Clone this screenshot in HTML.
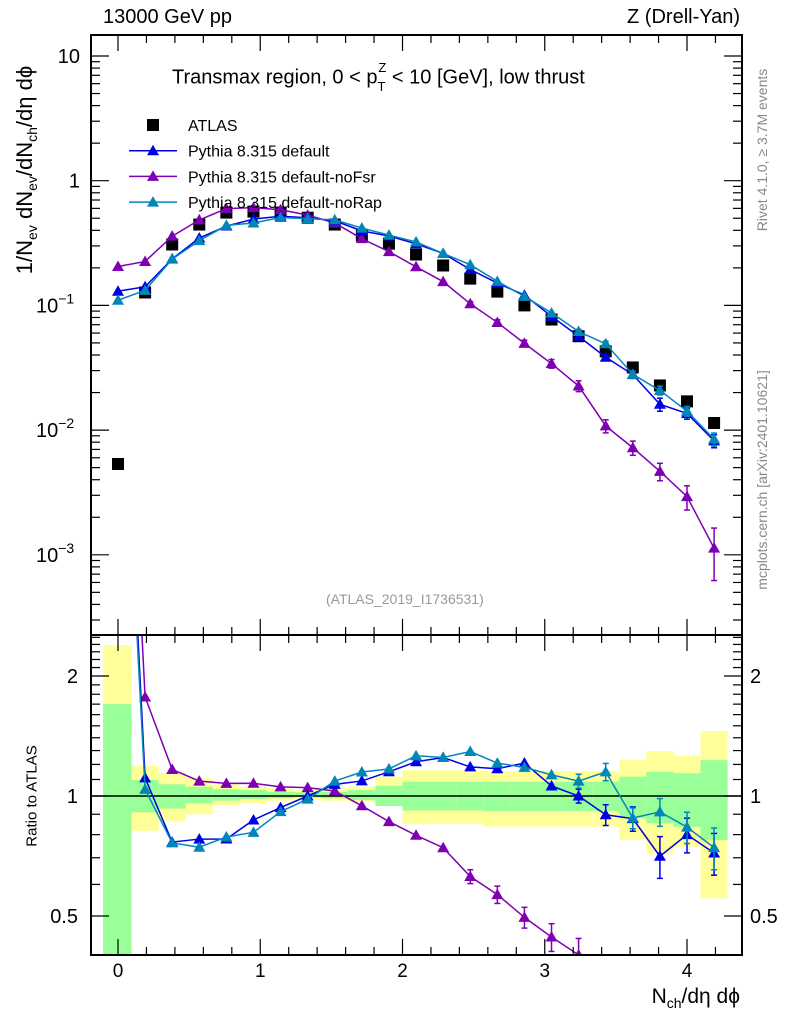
<!DOCTYPE html>
<html><head><meta charset="utf-8"><style>
html,body{margin:0;background:#fff;width:786px;height:1024px;overflow:hidden;}
svg{display:block;font-family:"Liberation Sans",sans-serif;}
</style></head><body>
<svg id="c" width="786" height="1024" viewBox="0 0 786 1024"></svg>
<script>
const xs=[0,1,2,3,4,5,6,7,8,9,10,11,12,13,14,15,16,17,18,19,20,21,22].map(i=>i*4/21);
const atlas=[0.00535,0.127,0.308,0.445,0.555,0.565,0.555,0.505,0.445,0.363,0.313,0.256,0.209,0.164,0.129,0.100,0.077,0.0566,0.0428,0.0318,0.0228,0.0170,0.0114];
const pyDefault=[0.13,0.141,0.236,0.347,0.433,0.492,0.519,0.505,0.476,0.396,0.360,0.312,0.261,0.194,0.151,0.121,0.0816,0.0566,0.0384,0.0279,0.0161,0.0136,0.0082];
const pyNoFsr=[0.205,0.225,0.359,0.485,0.597,0.608,0.585,0.530,0.458,0.343,0.270,0.204,0.155,0.103,0.073,0.0496,0.0341,0.0226,0.0108,0.00722,0.00467,0.00293,0.00113];
const pyNoRap=[0.11,0.132,0.235,0.331,0.438,0.458,0.507,0.496,0.485,0.417,0.366,0.323,0.261,0.212,0.156,0.118,0.087,0.0617,0.0492,0.0280,0.0208,0.0142,0.00846];
const relErrDefault=[0.01,0.01,0.01,0.01,0.01,0.01,0.01,0.01,0.01,0.01,0.01,0.01,0.01,0.01,0.02,0.02,0.03,0.04,0.06,0.07,0.12,0.1,0.12];
const relErrNoFsr=[0.01,0.02,0.01,0.01,0.01,0.01,0.01,0.01,0.01,0.01,0.02,0.02,0.03,0.04,0.05,0.06,0.08,0.1,0.12,0.13,0.16,0.22,0.45];
const relErrNoRap=[0.01,0.01,0.01,0.01,0.01,0.01,0.01,0.01,0.01,0.01,0.01,0.01,0.01,0.01,0.02,0.02,0.03,0.04,0.05,0.06,0.08,0.09,0.12];
const yellowUp=[2.39,1.19,1.144,1.107,1.07,1.055,1.045,1.035,1.045,1.055,1.118,1.16,1.16,1.16,1.155,1.155,1.155,1.155,1.155,1.23,1.297,1.26,1.455];
const yellowDn=[0.3,0.818,0.862,0.90,0.946,0.959,0.973,0.983,0.973,0.968,0.946,0.85,0.85,0.85,0.838,0.838,0.838,0.838,0.838,0.775,0.715,0.746,0.554];
const greenUp=[1.70,1.097,1.07,1.055,1.04,1.035,1.025,1.022,1.025,1.035,1.061,1.086,1.086,1.086,1.086,1.086,1.086,1.086,1.086,1.118,1.15,1.14,1.23];
const greenDn=[0.3,0.91,0.93,0.958,0.973,0.983,0.987,0.992,0.987,0.977,0.944,0.92,0.92,0.92,0.917,0.917,0.917,0.917,0.917,0.879,0.854,0.837,0.775];
const xTicks=[0,1,2,3,4];
const yTicks=[10,1,0.1,0.01,0.001];
const rTicks=[2,1,0.5];

const NS="http://www.w3.org/2000/svg";
const svg=document.getElementById('c');
function el(t,a,p){const e=document.createElementNS(NS,t);for(const k in a)e.setAttribute(k,a[k]);(p||svg).appendChild(e);return e;}
const L=91,R=742,T=35,MB=635,RB=955;
const X=v=>118+v*142.25;
const Y=v=>56-124.7*(Math.log10(v)-1);
const RY=v=>796-120*Math.log2(v);
const colors={d:'#0000e6',f:'#7f00b2',r:'#0087b8'};

const defs=el('defs',{});
const c1=el('clipPath',{id:'cm'},defs);el('rect',{x:L,y:T,width:R-L,height:MB-T},c1);
const c2=el('clipPath',{id:'cr'},defs);el('rect',{x:L,y:MB,width:R-L,height:RB-MB},c2);

const gBand=el('g',{'clip-path':'url(#cr)'});


const step=4/21;
xs.forEach((x,i)=>{
  const x0=X(i==0?-0.105:x-step/2), x1=X(x+step/2);
  const y1=el('rect',{x:x0,y:RY(yellowUp[i]),width:x1-x0,height:RY(yellowDn[i])-RY(yellowUp[i]),fill:'#ffff99'},gBand);
  
  
  const g1=el('rect',{x:x0,y:RY(greenUp[i]),width:x1-x0,height:RY(greenDn[i])-RY(greenUp[i]),fill:'#99ff99'},gBand);
  
  
});
el('line',{x1:L,x2:R,y1:RY(1),y2:RY(1),stroke:'#000','stroke-width':1.5});

function tri(g,x,y,c){return el('path',{d:`M${x},${y-6}L${x+6},${y+4.5}L${x-6},${y+4.5}Z`,fill:c},g);}

function series(vals,err,c,name){
  const g=el('g',{'clip-path':'url(#cm)'});
  
  
  el('polyline',{points:vals.map((v,i)=>X(xs[i])+','+Y(v)).join(' '),fill:'none',stroke:c,'stroke-width':1.5},g);
  vals.forEach((v,i)=>{
    const e=err[i]*v;
    if(err[i]>0.03){el('line',{x1:X(xs[i]),x2:X(xs[i]),y1:Y(v+e),y2:Y(Math.max(v-e,1e-6)),stroke:c,'stroke-width':1.5},g);
      [v+e,v-e].forEach(w=>el('line',{x1:X(xs[i])-3,x2:X(xs[i])+3,y1:Y(w),y2:Y(w),stroke:c,'stroke-width':1.5},g));}
    const m=tri(g,X(xs[i]),Y(v),c);
    
    
  });
  const gr=el('g',{'clip-path':'url(#cr)'});
  
  
  const rv=vals.map((v,i)=>v/atlas[i]);
  el('polyline',{points:rv.map((r,i)=>X(xs[i])+','+RY(r)).join(' '),fill:'none',stroke:c,'stroke-width':1.5},gr);
  rv.forEach((r,i)=>{
    const e=err[i]*r;
    if(err[i]>0.03){el('line',{x1:X(xs[i]),x2:X(xs[i]),y1:RY(r+e),y2:RY(Math.max(r-e,0.01)),stroke:c,'stroke-width':1.5},gr);
      [r+e,r-e].forEach(w=>el('line',{x1:X(xs[i])-3,x2:X(xs[i])+3,y1:RY(w),y2:RY(w),stroke:c,'stroke-width':1.5},gr));}
    const m=tri(gr,X(xs[i]),RY(r),c);
    
    
  });
}
const ga=el('g',{'clip-path':'url(#cm)'});


atlas.forEach((v,i)=>{const r=el('rect',{x:X(xs[i])-6,y:Y(v)-6,width:12,height:12,fill:'#000'},ga);
  
  });
series(pyNoFsr,relErrNoFsr,colors.f,'pythia-nofsr');
series(pyDefault,relErrDefault,colors.d,'pythia-default');
series(pyNoRap,relErrNoRap,colors.r,'pythia-norap');

el('rect',{x:L,y:T,width:R-L,height:MB-T,fill:'none',stroke:'#000','stroke-width':2});
el('rect',{x:L,y:MB,width:R-L,height:RB-MB,fill:'none',stroke:'#000','stroke-width':2});

for(let k=-1;k<=21;k++){const v=k*0.2;const x=X(v);if(x<L||x>R)continue;
  const big=Math.abs(v-Math.round(v))<1e-6;const h=big?16:8;
  [[T,1],[MB,-1],[MB,1],[RB,-1]].forEach(([y,s])=>el('line',{x1:x,x2:x,y1:y,y2:y+s*h,stroke:'#000','stroke-width':1.2}));}
xTicks.forEach(v=>{const t=el('text',{x:X(v),y:977,'font-size':19,'text-anchor':'middle'});t.textContent=v;
  });
for(let d=-4;d<=1;d++){for(let m=1;m<10;m++){const v=m*Math.pow(10,d);const y=Y(v);if(y<T||y>MB)continue;
  const h=m==1?18:9;el('line',{x1:L,x2:L+h,y1:y,y2:y,stroke:'#000','stroke-width':1.2});el('line',{x1:R,x2:R-h,y1:y,y2:y,stroke:'#000','stroke-width':1.2});}}
const ylab=['10','1','10<tspan dy="-9" font-size="14">−1</tspan>','10<tspan dy="-9" font-size="14">−2</tspan>','10<tspan dy="-9" font-size="14">−3</tspan>'];
yTicks.forEach((v,i)=>{const t=el('text',{x:i<2?80:36,y:Y(v)+7,'font-size':20,'text-anchor':i<2?'end':'start'});t.innerHTML=ylab[i];
  });
rTicks.forEach(v=>{const t=el('text',{x:78,y:RY(v)+7,'font-size':20,'text-anchor':'end'});t.textContent=v;
  
  const t2=el('text',{x:750,y:RY(v)+7,'font-size':20});t2.textContent=v;
  });
for(let k=4;k<=25;k++){const v=k/10;const y=RY(v);if(y<MB||y>RB)continue;const big=(v==0.5||v==1||v==2);const h=big?18:9;
  el('line',{x1:L,x2:L+h,y1:y,y2:y,stroke:'#000','stroke-width':1.2});el('line',{x1:R,x2:R-h,y1:y,y2:y,stroke:'#000','stroke-width':1.2});}

const leg=[['ATLAS',null],['Pythia 8.315 default',colors.d],['Pythia 8.315 default-noFsr',colors.f],['Pythia 8.315 default-noRap',colors.r]];
leg.forEach(([n,c],i)=>{const y=125+i*25.7;const g=el('g',{});
  
  if(!c)el('rect',{x:147,y:y-6,width:12,height:12,fill:'#000'},g);
  else{el('line',{x1:129,x2:177,y1:y,y2:y,stroke:c,'stroke-width':1.5},g);tri(g,153,y,c);}
  const t=el('text',{x:188,y:y+6,'font-size':16},g);t.textContent=n;});
</script>
<div style="position:absolute;left:0;top:0;width:786px;height:1024px;overflow:hidden;font-family:'Liberation Sans',sans-serif;pointer-events:none;">
<div style="position:absolute;left:103px;top:6px;font-size:20px;">13000 GeV pp</div>
<div style="position:absolute;right:46px;top:6px;font-size:20px;">Z (Drell-Yan)</div>
<div style="position:absolute;left:172px;top:64px;font-size:20px;white-space:nowrap;">Transmax region, 0 &lt; p<sub style="font-size:13px;position:relative;top:2px;">T</sub><sup style="font-size:13px;margin-left:-7px;position:relative;top:-4px;">Z</sup> &lt; 10 [GeV], low thrust</div>
<div style="position:absolute;left:326px;top:591px;font-size:14px;color:#999;">(ATLAS_2019_I1736531)</div>
<div style="position:absolute;left:762px;top:150px;transform:translate(-50%,-50%) rotate(-90deg);font-size:14px;color:#888;white-space:nowrap;">Rivet 4.1.0, ≥ 3.7M events</div>
<div style="position:absolute;left:762px;top:480px;transform:translate(-50%,-50%) rotate(-90deg);font-size:14px;color:#888;white-space:nowrap;">mcplots.cern.ch [arXiv:2401.10621]</div>
<div style="position:absolute;left:26px;top:170px;transform:translate(-50%,-50%) rotate(-90deg);font-size:22px;white-space:nowrap;">1/N<sub style="font-size:14px">ev</sub> dN<sub style="font-size:14px">ev</sub>/dN<sub style="font-size:14px">ch</sub>/dη dϕ</div>
<div style="position:absolute;left:32px;top:796px;transform:translate(-50%,-50%) rotate(-90deg);font-size:15px;white-space:nowrap;">Ratio to ATLAS</div>
<div style="position:absolute;right:46px;top:985px;font-size:21px;white-space:nowrap;">N<sub style="font-size:14px">ch</sub>/dη dϕ</div>
</div>
</body></html>
